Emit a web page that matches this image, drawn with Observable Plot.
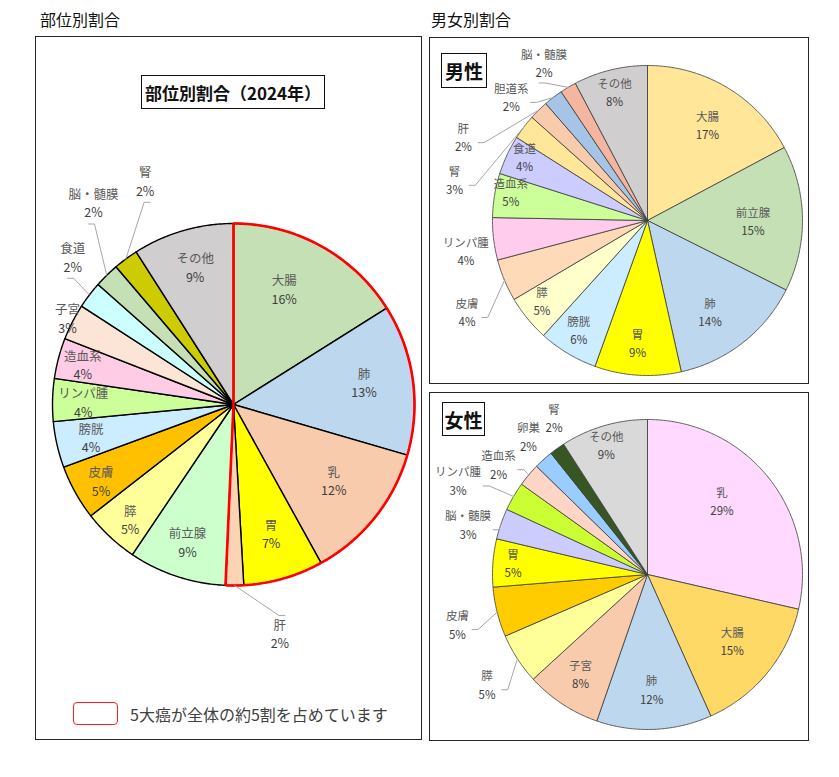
<!DOCTYPE html>
<html><head><meta charset="utf-8">
<script src="https://cdn.jsdelivr.net/npm/d3@7"></script>
<script src="https://cdn.jsdelivr.net/npm/@observablehq/plot@0.6"></script>
<style>
body{margin:0;background:#fff;font-family:"Noto Sans CJK JP","Noto Sans",sans-serif;}
#page{position:relative;width:839px;height:777px;overflow:hidden;}
.abs{position:absolute;box-sizing:border-box;}
.panel{border:1.5px solid #262626;}
.head{font-size:16px;color:#111;line-height:20px;}
.tbox{border:1.5px solid #111;font-weight:bold;display:flex;align-items:center;justify-content:center;color:#111;background:transparent;}
#chart{position:absolute;left:0;top:0;}
</style></head>
<body><div id="page">
<div id="chart"></div>
<div class="abs head" style="left:40px;top:9px;">部位別割合</div>
<div class="abs head" style="left:431px;top:9px;">男女別割合</div>
<div class="abs panel" style="left:35px;top:36px;width:387px;height:704px;"></div>
<div class="abs panel" style="left:429px;top:37px;width:380px;height:347px;"></div>
<div class="abs panel" style="left:429px;top:392px;width:380px;height:349px;"></div>
<div class="abs tbox" style="left:141px;top:75px;width:184px;height:34px;font-size:17px;">部位別割合（2024年）</div>
<div class="abs tbox" style="left:441px;top:53px;width:46px;height:35px;font-size:19px;">男性</div>
<div class="abs tbox" style="left:442px;top:402px;width:43px;height:34px;font-size:19px;">女性</div>
<div class="abs" style="left:73px;top:702px;width:45px;height:23px;border:1.5px solid #FF2020;border-radius:4px;"></div>
<div class="abs" style="left:130px;top:702px;font-size:16px;line-height:24px;color:#404040;">5大癌が全体の約5割を占めています</div>
</div>
<script>
// ---- data ----
const allLabels = ["大腸","肺","乳","胃","肝","前立腺","膵","皮膚","膀胱","リンパ腫","造血系","子宮","食道","脳・髄膜","腎","その他"];
const allValues = [16.0,13.4,12.4,7.1,1.6,8.7,5.0,4.9,4.1,3.8,3.6,3.2,2.4,2.2,2.2,9.0];
const allColors = ["#C5E0B4","#BDD7EE","#F8CBAD","#FFFF00","#FBD4B4","#CCFFCC","#FFFF99","#FFC000","#CCECFF","#CCFF99","#FFCCE6","#FCE4D6","#CCFFFF","#C5E0B4","#CCCC00","#D0CECE"];
const fiveMajor = ["大腸","肺","乳","胃","肝"];

const maleLabels = ["大腸","前立腺","肺","胃","膀胱","膵","皮膚","リンパ腫","造血系","食道","腎","肝","胆道系","脳・髄膜","その他"];
const maleValues = [17.2,15.2,14.1,9.0,6.2,4.8,4.4,4.4,4.6,4.1,2.6,2.0,2.0,1.7,7.7];
const maleColors = ["#FFE699","#C5E0B4","#BDD7EE","#FFFF00","#CCECFF","#FFFFCC","#FFDAB9","#FFCCEE","#CCFF99","#CCCCFF","#FFE699","#F8CBAD","#A6C4E6","#F4B6A0","#D0CECE"];

const femaleLabels = ["乳","大腸","肺","子宮","膵","皮膚","胃","脳・髄膜","リンパ腫","造血系","卵巣","腎","その他"];
const femaleValues = [28.6,14.7,12.0,7.9,5.3,5.2,5.0,3.2,3.0,2.4,2.0,1.6,9.1];
const femaleColors = ["#FFD9FF","#FFD966","#BDD7EE","#F8CBAD","#FFFF99","#FFCC00","#FFFF00","#CCCCFF","#CCFF33","#FFD5C7","#99CCFF","#375623","#D9D9D9"];

// ---- layout (label placement: [radius factor, angle offset in degrees]) ----
const allLabelLayout = [[0.69,-5],[0.73,-1],[0.70,-1],[0.75,0],[1.30,-11],[0.81,0],[0.86,-1.4],[0.85,-1.4],[0.81,-0.8],[0.83,-1],[0.86,-0.5],[1.03,0],[1.2,5],[1.35,9.5],[1.32,14.8],[0.78,0.5]];
const maleLabelLayout = [[0.72,1.5],[0.68,1.8],[0.72,3.9],[0.80,1],[0.84,0.9],[0.86,1.6],[1.31,-4.6],[1.19,-3.2],[0.90,2.0],[0.89,2.0],[1.27,-25.6],[1.30,-21.4],[1.18,-10.7],[1.21,-2.7],[0.85,-0.6]];
const femaleLabelLayout = [[0.67,-5.7],[0.70,-0.7],[0.75,0.5],[0.78,0.3],[1.26,-1.8],[1.27,-1],[0.87,0],[1.20,-3.9],[1.36,-4.2],[1.19,-3.8],[1.17,1.1],[1.17,4.6],[0.87,-1.4]];
const allLeaders = ["肝","食道","脳・髄膜","腎"];
const maleLeaders = ["皮膚","腎","肝","胆道系","脳・髄膜"];
const femaleLeaders = ["膵","皮膚","脳・髄膜","リンパ腫","造血系"];

const pies = [
  {labels:allLabels, values:allValues, colors:allColors, lay:allLabelLayout, leaders:allLeaders, cx:233, cy:404, r:181, stroke:"#000", sw:1.4, fs:12.5, gap:18.5},
  {labels:maleLabels, values:maleValues, colors:maleColors, lay:maleLabelLayout, leaders:maleLeaders, cx:647, cy:220, r:155, stroke:"#3a3a3a", sw:0.8, fs:11.5, gap:18},
  {labels:femaleLabels, values:femaleValues, colors:femaleColors, lay:femaleLabelLayout, leaders:femaleLeaders, cx:647, cy:574, r:155, stroke:"#3a3a3a", sw:0.8, fs:11.5, gap:18.5}
];

const W = 839, H = 777;
const pt = (p, a, rr) => ({x: p.cx + rr*Math.sin(a), y: p.cy - rr*Math.cos(a)});
function wedge(p, a0, a1, id, extra) {
  const out = [{id, ...extra, ...pt(p,0,0)}];
  const n = Math.max(2, Math.ceil((a1-a0)/(Math.PI/360)));
  for (let k=0;k<=n;k++) { const a = a0 + (a1-a0)*k/n; out.push({id, ...extra, ...pt(p,a,p.r)}); }
  out.push({id, ...extra, ...pt(p,0,0)});
  return out;
}

const marks = [];
pies.forEach((p, pi) => {
  const total = d3.sum(p.values);
  const arcs = d3.pie().sort(null).value(d=>d)(p.values);
  const poly = [], names = [], pcts = [], leaders = [];
  arcs.forEach((a, i) => {
    poly.push(...wedge(p, a.startAngle, a.endAngle, pi+"-"+i, {color:p.colors[i]}));
    const mid = (a.startAngle + a.endAngle)/2;
    const [rf, da] = p.lay[i];
    const L = pt(p, mid + da*Math.PI/180, rf*p.r);
    const name = p.labels[i];
    const pct = Math.round(p.values[i]/total*100) + "%";
    names.push({x:L.x, y:L.y - p.gap/2, t:name, s:p.fs});
    pcts.push({x:L.x, y:L.y + p.gap/2, t:pct, s:p.fs});
    if (p.leaders.includes(name)) {
      const E = pt(p, mid, p.r);
      const w = Math.max(name.length*p.fs, 2.2*p.fs), h = p.gap + p.fs*1.2;
      const dx = E.x - L.x, dy = E.y - L.y;
      let A, B;
      if (Math.abs(dy) - h/2 > Math.abs(dx) - w/2) {
        A = {x: L.x - 5*Math.sign(dx), y: L.y + Math.sign(dy)*(h/2+3)};
      } else {
        A = {x: L.x + Math.sign(dx)*(w/2+2), y: L.y + 4};
      }
      B = {x: A.x + 6*Math.sign(dx), y: A.y};
      const id = "L"+pi+"-"+i;
      leaders.push({id,...A},{id,...B},{id,...E});
    }
  });
  marks.push(Plot.line(poly, {x:"x", y:"y", z:"id", fill:"color", stroke:p.stroke, strokeWidth:p.sw, strokeLinejoin:"round", curve:"linear"}));
  if (pi === 0) {
    const idx = p.labels.map((l,i)=>fiveMajor.includes(l)?i:-1).filter(i=>i>=0);
    const a0 = arcs[d3.min(idx)].startAngle, a1 = arcs[d3.max(idx)].endAngle;
    marks.push(Plot.line(wedge(p, a0, a1, "five", {}), {x:"x", y:"y", z:"id", stroke:"#FF0000", strokeWidth:2.6, strokeLinejoin:"miter", curve:"linear"}));
  }
  marks.push(Plot.line(leaders, {x:"x", y:"y", z:"id", stroke:"#A6A6A6", strokeWidth:1, curve:"linear"}));
  marks.push(Plot.text(names, {x:"x", y:"y", text:"t", fill:"#595959", fontSize:p.fs, fontFamily:"Noto Sans CJK JP"}));
  marks.push(Plot.text(pcts, {x:"x", y:"y", text:"t", fill:"#404040", fontSize:p.fs, fontFamily:"Noto Sans CJK JP"}));
});

const chart = Plot.plot({
  width: W, height: H, margin: 0,
  x: {domain:[0,W], range:[0,W], axis:null},
  y: {domain:[0,H], range:[0,H], axis:null},
  color: {type:"identity"},
  style: {background:"transparent", overflow:"visible"},
  marks
});
document.getElementById("chart").appendChild(chart);
</script>
</body></html>
